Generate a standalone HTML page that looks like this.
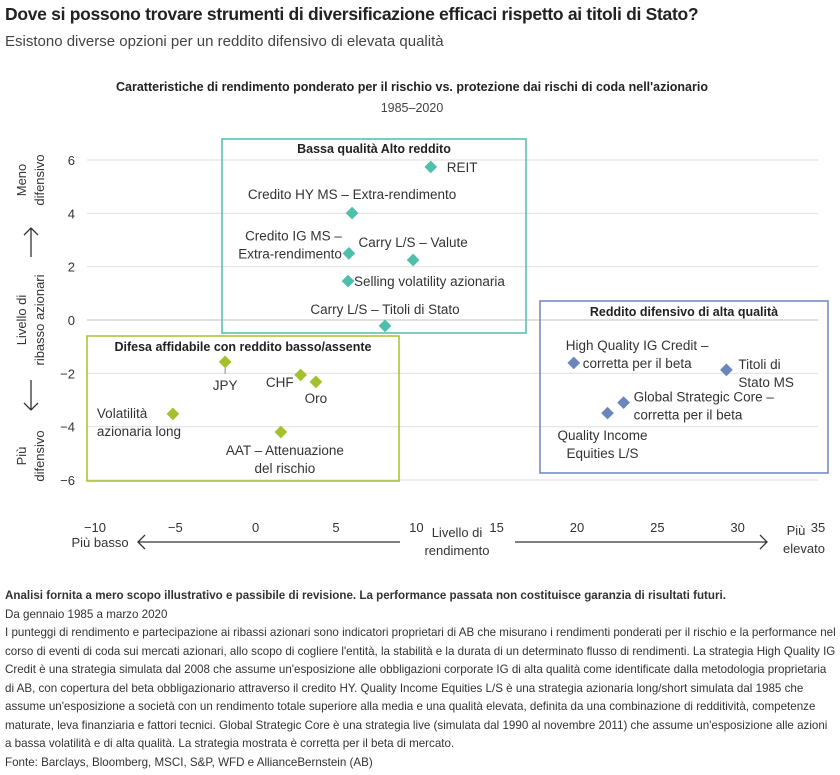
<!DOCTYPE html>
<html><head><meta charset="utf-8"><style>
body{margin:0;width:840px;height:775px;background:#fff;font-family:"Liberation Sans",sans-serif;color:#222;position:relative;overflow:hidden}
.t{position:absolute;left:5px;white-space:nowrap}
#foot{position:absolute;left:5px;top:587px;width:832px;font-size:11.6px;line-height:18.5px;color:#333}
</style></head><body>
<div class="t" style="top:4px;font-size:17.5px;font-weight:bold;letter-spacing:-0.3px">Dove si possono trovare strumenti di diversificazione efficaci rispetto ai titoli di Stato?</div>
<div class="t" style="top:33px;font-size:15px;color:#444">Esistono diverse opzioni per un reddito difensivo di elevata qualità</div>
<svg id="ch" width="840" height="580" style="position:absolute;left:0;top:0" font-family="Liberation Sans, sans-serif"></svg>
<div id="foot">
<div style="font-weight:bold">Analisi fornita a mero scopo illustrativo e passibile di revisione. La performance passata non costituisce garanzia di risultati futuri.</div>
<div>Da gennaio 1985 a marzo 2020</div>
<div>I punteggi di rendimento e partecipazione ai ribassi azionari sono indicatori proprietari di AB che misurano i rendimenti ponderati per il rischio e la performance nel corso di eventi di coda sui mercati azionari, allo scopo di cogliere l'entità, la stabilità e la durata di un determinato flusso di rendimenti. La strategia High Quality IG Credit è una strategia simulata dal 2008 che assume un'esposizione alle obbligazioni corporate IG di alta qualità come identificate dalla metodologia proprietaria di AB, con copertura del beta obbligazionario attraverso il credito HY. Quality Income Equities L/S è una strategia azionaria long/short simulata dal 1985 che assume un'esposizione a società con un rendimento totale superiore alla media e una qualità elevata, definita da una combinazione di redditività, competenze maturate, leva finanziaria e fattori tecnici. Global Strategic Core è una strategia live (simulata dal 1990 al novembre 2011) che assume un'esposizione alle azioni a bassa volatilità e di alta qualità. La strategia mostrata è corretta per il beta di mercato.</div>
<div>Fonte: Barclays, Bloomberg, MSCI, S&amp;P, WFD e AllianceBernstein (AB)</div>
</div>
<script>
const names=["REIT","Credito HY MS – Extra-rendimento","Credito IG MS – Extra-rendimento","Carry L/S – Valute","Selling volatility azionaria","Carry L/S – Titoli di Stato","JPY","CHF","Oro","Volatilità azionaria long","AAT – Attenuazione del rischio","High Quality IG Credit – corretta per il beta","Titoli di Stato MS","Global Strategic Core – corretta per il beta","Quality Income Equities L/S"];
const xVals=[10.9,6.0,5.8,9.8,5.75,8.05,-1.9,2.8,3.75,-5.15,1.57,19.8,29.3,22.9,21.9];
const yVals=[5.74,4.01,2.5,2.25,1.46,-0.22,-1.57,-2.06,-2.32,-3.52,-4.2,-1.61,-1.87,-3.1,-3.49];
const groups=[0,0,0,0,0,0,1,1,1,1,1,2,2,2,2];
const xTicks=[-10,-5,0,5,10,15,20,25,30,35];
const yTicks=[6,4,2,0,-2,-4,-6];
const colors=["#4dbfaa","#a3c12d","#6b86bd"];
// label lines and offsets (style only): [lines, dx (or per-line), dy of first line baseline, anchor]
const lab=[
 [["REIT"],16,5,"start"],
 [["Credito HY MS – Extra-rendimento"],0,-14,"middle"],
 [["Credito IG MS –","Extra-rendimento"],-7,-13,"end"],
 [["Carry L/S – Valute"],0,-13,"middle"],
 [["Selling volatility azionaria"],6,5,"start"],
 [["Carry L/S – Titoli di Stato"],0,-12,"middle"],
 [["JPY"],0,28,"middle"],
 [["CHF"],-7,12,"end"],
 [["Oro"],0,21,"middle"],
 [["Volatilità","azionaria long"],-76,4,"start"],
 [["AAT – Attenuazione","del rischio"],4,23,"middle"],
 [["High Quality IG Credit –","corretta per il beta"],[-8,9],-13,"start"],
 [["Titoli di","Stato MS"],12,-1,"start"],
 [["Global Strategic Core –","corretta per il beta"],10,-1,"start"],
 [["Quality Income","Equities L/S"],-5,27,"middle"]];
const X=v=>95+(v+10)*723/45, Y=v=>320-v*80/3;
const svg=document.getElementById('ch'), NS="http://www.w3.org/2000/svg";
function mk(t,a,txt){const e=document.createElementNS(NS,t);for(const k in a)e.setAttribute(k,a[k]);if(txt!=null)e.textContent=txt;svg.appendChild(e);return e;}
let e;
e=mk('text',{x:412,y:91,'text-anchor':'middle','font-size':12.5,'font-weight':'bold',fill:'#222'},"Caratteristiche di rendimento ponderato per il rischio vs. protezione dai rischi di coda nell'azionario");


e=mk('text',{x:412,y:112,'text-anchor':'middle','font-size':12.5,fill:'#444'},"1985–2020");


yTicks.forEach(t=>{
 e=mk('line',{x1:87,x2:818,y1:Y(t),y2:Y(t),stroke:t==0?'#ccc':'#e2e2e2','stroke-width':1.2});
 
 
 e=mk('text',{x:75,y:Y(t)+5,'text-anchor':'end','font-size':13,fill:'#333'},t<0?'−'+(-t):String(t));
 
 
});
xTicks.forEach(t=>{
 e=mk('text',{x:X(t),y:532,'text-anchor':'middle','font-size':13,fill:'#333'},t<0?'−'+(-t):String(t));
 
 
});
const boxes=[[222,139,304,194,colors[0],"Bassa qualità Alto reddito",374,153],[87,336,312,145,colors[1],"Difesa affidabile con reddito basso/assente",243,351],[540,301,288,172,colors[2],"Reddito difensivo di alta qualità",684,316]];
boxes.forEach((b,i)=>{
 e=mk('rect',{x:b[0],y:b[1],width:b[2],height:b[3],fill:'none',stroke:b[4],'stroke-width':1.5});
 
 
 e=mk('text',{x:b[6],y:b[7],'text-anchor':'middle','font-size':12.5,'font-weight':'bold',fill:'#222'},b[5]);
 
 
});
e=mk('line',{x1:X(xVals[6]),x2:X(xVals[6]),y1:Y(yVals[6]),y2:Y(yVals[6])+12,stroke:'#888'});


xVals.forEach((xv,i)=>{
 const cx=X(xv),cy=Y(yVals[i]);
 e=mk('rect',{x:cx-4.5,y:cy-4.5,width:9,height:9,fill:colors[groups[i]],transform:`rotate(45 ${cx} ${cy})`});
 
 
 const L=lab[i];
 L[0].forEach((s,j)=>{
  const dx=Array.isArray(L[1])?L[1][j]:L[1];
  e=mk('text',{x:cx+dx,y:cy+L[2]+j*18,'text-anchor':L[3],'font-size':13.5,fill:'#333'},s);
  
  
 });
});
function txt(x,y,s,name,extra){e=mk('text',Object.assign({x:x,y:y,'font-size':13,fill:'#333','text-anchor':'middle'},extra||{}),s);}
txt(100,547,"Più basso","x-axis-low");
txt(457,537,"Livello di","x-axis-title");
txt(457,555,"rendimento","x-axis-title");
txt(796,535,"Più","x-axis-high");
txt(804,553,"elevato","x-axis-high");
e=mk('path',{d:'M138 542H400M515 542H767M145 535L138 542L145 549M760 535L767 542L760 549',stroke:'#333','stroke-width':1.3,fill:'none'});


txt(0,0,"Meno","y-axis-high",{transform:'translate(26,180) rotate(-90)'});
txt(0,0,"difensivo","y-axis-high",{transform:'translate(44,180) rotate(-90)'});
txt(0,0,"Livello di","y-axis-title",{transform:'translate(26,320) rotate(-90)'});
txt(0,0,"ribasso azionari","y-axis-title",{transform:'translate(44,320) rotate(-90)'});
txt(0,0,"Più","y-axis-low",{transform:'translate(26,456) rotate(-90)'});
txt(0,0,"difensivo","y-axis-low",{transform:'translate(44,456) rotate(-90)'});
e=mk('path',{d:'M31 257V228M24 235L31 228L38 235M31 380V410M24 403L31 410L38 403',stroke:'#333','stroke-width':1.3,fill:'none'});


</script>
</body></html>
